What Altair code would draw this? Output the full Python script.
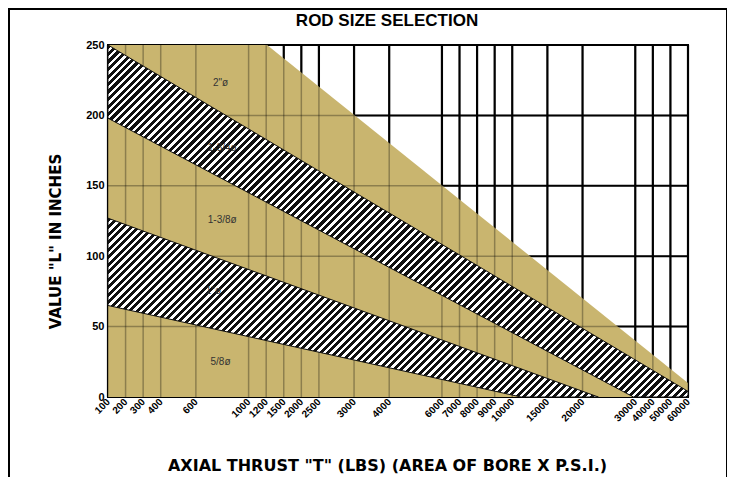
import altair as alt
import pandas as pd

# ---------------- text ----------------
chart_title = "ROD SIZE SELECTION"
x_title = 'AXIAL THRUST "T" (LBS)  (AREA OF BORE X P.S.I.)'
y_title = 'VALUE "L" IN INCHES'

# ---------------- axes ----------------
x_ticks = [0, 1, 2, 3, 5, 8, 9, 10, 11, 12, 14, 16, 19, 20, 21, 22, 23, 25, 27, 30, 31, 32, 33]
x_labels = ["100", "200", "300", "400", "600", "1000", "1200", "1500", "2000", "2500", "3000",
            "4000", "6000", "7000", "8000", "9000", "10000", "15000", "20000", "30000",
            "40000", "50000", "60000"]
y_ticks = [0, 50, 100, 150, 200, 250]
x_max = 33
y_max = 250

# ---------------- regions (rod size zones) ----------------
olive_x = [0, 9.05, 33]
olive_top = [250, 250, 10]

hatch1_x = [0, 29.9, 33]          # 1-3/4" zone
hatch1_top = [250, 27.1, 4]
hatch1_bottom = [198, 0, 0]

hatch2_x = [0, 23.5, 27.9]        # 1" zone
hatch2_top = [127, 20.0, 0]
hatch2_bottom = [65, 0, 0]

rod_labels = ['2"ø', '1-3/4ø', '1-3/8ø', '1"ø', '5/8ø']
rod_label_x = [6.4, 6.5, 6.5, 6.0, 6.4]
rod_label_y = [223, 177, 126, 75, 25]

# ---------------- layout / style ----------------
W, H = 580, 352
OLIVE = "#c9b56f"
FONT = "Liberation Sans"
TFONT = "DejaVu Sans"

xs = alt.Scale(domain=[0, x_max], nice=False, zero=False)
ys = alt.Scale(domain=[0, y_max], nice=False)

label_expr = "[" + ",".join("'%s'" % s for s in x_labels) + "][indexof([" + \
    ",".join(str(v) for v in x_ticks) + "], datum.value)]"

x_axis = alt.Axis(
    values=x_ticks, labelExpr=label_expr, title=x_title, grid=False,
    labelAngle=315, labelAlign="right", labelBaseline="middle", labelPadding=3,
    labelOverlap=False, labelFlush=False, labelFontSize=10, labelFontWeight="bold",
    titleX=279, titleY=60, titleBaseline="top", titleFontSize=16, titleFontWeight="bold",
    titleFont=TFONT)
y_axis = alt.Axis(
    values=y_ticks, title=y_title, grid=False, labelPadding=4,
    labelFontSize=11, labelFontWeight="bold",
    titleX=-45, titleY=196, titleFontSize=15, titleFontWeight="bold", titleFont=TFONT)


def X(field):
    return alt.X(field, scale=xs, axis=x_axis)


def Y(field):
    return alt.Y(field, scale=ys, axis=y_axis)


def hatch(w_px, h_px, period=7.5, duty=0.55):
    span = w_px + h_px
    x2 = span * w_px / (w_px ** 2 + h_px ** 2)
    y2 = x2 * h_px / w_px
    stops = []
    n = int(span / period) + 1
    for k in range(n):
        a = k * period / span
        if a > 1:
            break
        b = min((k + duty) * period / span, 1)
        c = min((k + 1) * period / span, 1)
        stops += [{"offset": round(a, 5), "color": "#111111"},
                  {"offset": round(b, 5), "color": "#111111"},
                  {"offset": round(b, 5), "color": "#ffffff"},
                  {"offset": round(c, 5), "color": "#ffffff"}]
    return {"gradient": "linear", "x1": 0, "y1": 0, "x2": x2, "y2": y2, "stops": stops}


vgrid = pd.DataFrame({"x": x_ticks})
hgrid = pd.DataFrame({"y": y_ticks[1:-1]})
olive_df = pd.DataFrame({"x": olive_x, "top": olive_top})
h1_df = pd.DataFrame({"x": hatch1_x, "top": hatch1_top, "bottom": hatch1_bottom})
h2_df = pd.DataFrame({"x": hatch2_x, "top": hatch2_top, "bottom": hatch2_bottom})
lab_df = pd.DataFrame({"x": rod_label_x, "y": rod_label_y, "t": rod_labels})

# black grid (seen in the white part)
vg_black = alt.Chart(vgrid).mark_rule(color="black", strokeWidth=2.2).encode(x=X("x:Q"))
hg_black = alt.Chart(hgrid).mark_rule(color="black", strokeWidth=2).encode(y=Y("y:Q"))

# olive zone
olive = alt.Chart(olive_df).mark_area(color=OLIVE, opacity=1).encode(
    x=X("x:Q"), y=Y("top:Q"), y2=alt.datum(0))

# grid seen through the olive
vg_faint = alt.Chart(vgrid).mark_rule(color="black", strokeWidth=1.5, opacity=0.3).encode(x=X("x:Q"))
hg_faint = alt.Chart(hgrid).mark_rule(color="black", strokeWidth=1.5, opacity=0.3).encode(y=Y("y:Q"))

h1_w = W * (max(hatch1_x) - min(hatch1_x)) / x_max
h1_h = H * (max(hatch1_top) - min(hatch1_bottom)) / y_max
h2_w = W * (max(hatch2_x) - min(hatch2_x)) / x_max
h2_h = H * (max(hatch2_top) - min(hatch2_bottom)) / y_max

band1 = alt.Chart(h1_df).mark_area(fill=hatch(h1_w, h1_h), stroke="#111111", strokeWidth=1).encode(
    x=X("x:Q"), y=Y("top:Q"), y2="bottom:Q")
band2 = alt.Chart(h2_df).mark_area(fill=hatch(h2_w, h2_h), stroke="#111111", strokeWidth=1).encode(
    x=X("x:Q"), y=Y("top:Q"), y2="bottom:Q")

labels = alt.Chart(lab_df).mark_text(fontSize=10, color="#333333", font=FONT).encode(
    x=X("x:Q"), y=Y("y:Q"), text="t:N")

frame = alt.Chart(pd.DataFrame({"a": [0]})).mark_rect(
    fill=None, fillOpacity=0, stroke="black", strokeWidth=2).encode(
    x=alt.value(-99), x2=alt.value(619), y=alt.value(-36), y2=alt.value(520))

chart = alt.layer(
    vg_black, hg_black, olive, vg_faint, hg_faint, band1, band2, labels, frame
).properties(
    width=W, height=H,
    autosize="none",
    padding={"left": 100, "top": 37, "right": 39, "bottom": 80},
    title=alt.TitleParams(chart_title, fontSize=17, fontWeight=900, font=FONT,
                          anchor="middle", frame="group", offset=0, dx=-11, dy=22),
    background="white",
).configure_view(
    stroke="black", strokeWidth=2
).configure_axis(
    domain=False, ticks=False, labelFont=FONT, titleFont=FONT,
    labelColor="black", titleColor="black"
)

chart.save("out.html", embed_options={"renderer": "svg", "actions": False})
